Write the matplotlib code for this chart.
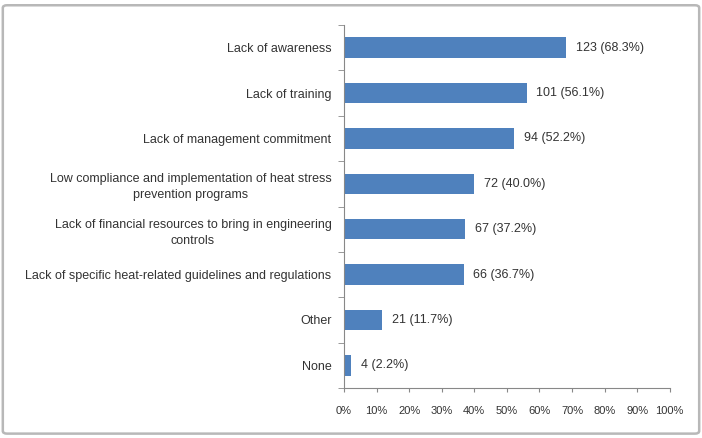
import matplotlib.pyplot as plt
from matplotlib.patches import FancyBboxPatch
from matplotlib.ticker import FixedLocator, PercentFormatter

categories = [
    "Lack of awareness",
    "Lack of training",
    "Lack of management commitment",
    "Low compliance and implementation of heat stress\nprevention programs",
    "Lack of financial resources to bring in engineering\ncontrols",
    "Lack of specific heat-related guidelines and regulations",
    "Other",
    "None",
]
counts = [123, 101, 94, 72, 67, 66, 21, 4]
percents = [68.3, 56.1, 52.2, 40.0, 37.2, 36.7, 11.7, 2.2]
xticks = [0, 10, 20, 30, 40, 50, 60, 70, 80, 90, 100]

plt.rcParams['font.family'] = ['Liberation Sans', 'DejaVu Sans']

fig = plt.figure(figsize=(7.02, 4.38), dpi=100)
fig.patches.append(FancyBboxPatch((0.004, 0.01), 0.992, 0.978, boxstyle="round,pad=0,rounding_size=0.006",
                                  transform=fig.transFigure, facecolor="none",
                                  edgecolor="#b8b8b8", linewidth=1.8, zorder=5))
ax = fig.add_axes([0.490, 0.114, 0.464, 0.829])

ypos = list(range(len(categories)))
ax.barh(ypos, percents, height=0.45, color="#4f81bd")
for y, c, p in zip(ypos, counts, percents):
    ax.annotate(f"{c} ({p:.1f}%)", (p, y), xytext=(7, 0), textcoords="offset points",
                va="center", ha="left", fontsize=9, color="#333333")

ax.set_xlim(0, 100)
ax.set_ylim(len(categories) - 0.5, -0.5)
ax.set_xticks(xticks)
ax.xaxis.set_major_formatter(PercentFormatter(decimals=0))
ax.set_yticks(ypos)
ax.set_yticklabels(categories, fontsize=9, color="#333333", multialignment="center",
                   linespacing=1.45)
ax.tick_params(axis="y", length=0, pad=9)
ax.yaxis.set_minor_locator(FixedLocator([i - 0.5 for i in range(len(categories) + 1)]))
ax.tick_params(axis="y", which="minor", length=4, color="#888888")
ax.tick_params(axis="x", length=3, color="#888888", labelsize=8, labelcolor="#333333", pad=10)

for s in ["top", "right"]:
    ax.spines[s].set_visible(False)
ax.spines["left"].set_color("#888888")
ax.spines["bottom"].set_color("#888888")

fig.savefig("out.png", dpi=100)
